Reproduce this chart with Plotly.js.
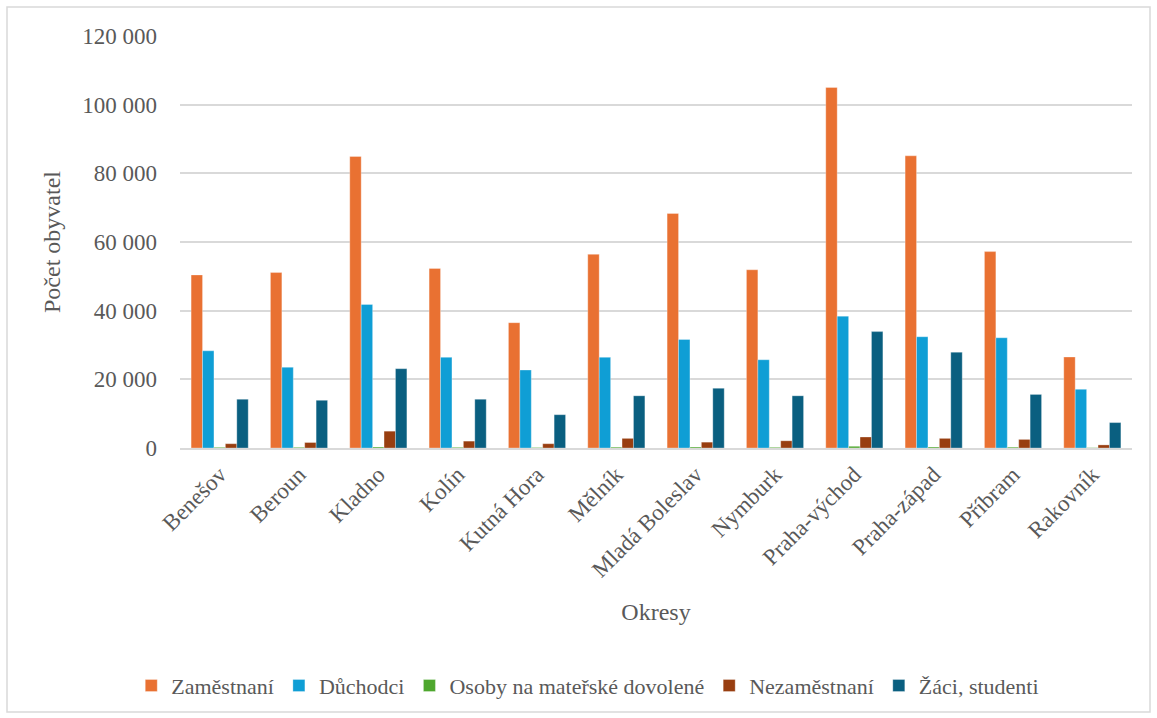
<!DOCTYPE html>
<html>
<head>
<meta charset="utf-8">
<script src="https://cdn.plot.ly/plotly-3.0.1.min.js"></script>
<style>
html,body{margin:0;padding:0;background:#fff;}
#chart{width:1157px;height:718px;}
</style>
</head>
<body>
<div id="chart"></div>
<script>
const okresy = ["Benešov","Beroun","Kladno","Kolín","Kutná Hora","Mělník","Mladá Boleslav","Nymburk","Praha-východ","Praha-západ","Příbram","Rakovník"];
const zamestnani = [50400,51100,84900,52300,36500,56400,68300,51900,105000,85100,57200,26500];
const duchodci = [28300,23500,41800,26400,22700,26400,31600,25700,38400,32400,32100,17100];
const materska = [200,200,300,200,150,250,300,200,500,300,250,100];
const nezamestnani = [1250,1600,4900,2000,1250,2800,1700,2100,3200,2800,2500,900];
const zaci = [14200,13900,23100,14200,9700,15200,17400,15200,33900,27900,15600,7400];

const seriesNames = ["Zaměstnaní","Důchodci","Osoby na mateřské dovolené","Nezaměstnaní","Žáci, studenti"];
const seriesValues = [zamestnani, duchodci, materska, nezamestnani, zaci];
const colors = ["#E97132","#0F9ED5","#4EA72E","#983E10","#0A5F80"];

const yTickVals = [0,20000,40000,60000,80000,100000,120000];
const yTickText = ["0","20 000","40 000","60 000","80 000","100 000","120 000"];

const traces = seriesNames.map((n,i)=>({
  type:'bar', name:n, x:okresy, y:seriesValues[i],
  marker:{color:colors[i], line:{color:'rgba(255,255,255,0.6)', width:0.5}}
}));

const font = "'Liberation Serif', 'Times New Roman', serif";
const layout = {
  width:1157, height:718,
  margin:{l:180, r:25, t:36, b:270},
  paper_bgcolor:'#fff', plot_bgcolor:'#fff',
  barmode:'group', bargap:0.28, bargroupgap:0,
  font:{family:font, color:'#595959', size:22},
  showlegend:true,
  legend:{orientation:'h', xref:'container', x:0.508, xanchor:'center', yref:'container', y:0.045, yanchor:'middle',
    font:{family:font, size:22, color:'#595959'}, itemwidth:30, traceorder:'normal', tracegroupgap:0},
  xaxis:{
    type:'category', tickangle:-45, tickfont:{family:font, size:23, color:'#595959'},
    showgrid:false, showline:true, linecolor:'#d9d9d9', linewidth:2, ticks:'',
    ticklabelstandoff:2,
    title:{text:'Okresy', font:{family:font, size:24, color:'#595959'}, standoff:22},
    automargin:false
  },
  yaxis:{
    range:[0,120000], tickvals:yTickVals, ticktext:yTickText,
    tickfont:{family:font, size:23, color:'#595959'},
    showgrid:true, gridcolor:'#d9d9d9', gridwidth:2, zeroline:false, showline:false,
    ticklabelstandoff:22,
    title:{text:'Počet obyvatel', font:{family:font, size:24, color:'#595959'}, standoff:14},
    automargin:false
  },
  shapes:[{type:'rect', xref:'paper', yref:'paper',
    x0:(7-180)/952, x1:(1150-180)/952, y0:(448-712)/412, y1:(448-7)/412,
    line:{color:'#d9d9d9', width:1.5}, fillcolor:'rgba(0,0,0,0)', layer:'below'}]
};

Plotly.newPlot('chart', traces, layout, {displayModeBar:false, staticPlot:true});
</script>
</body>
</html>
